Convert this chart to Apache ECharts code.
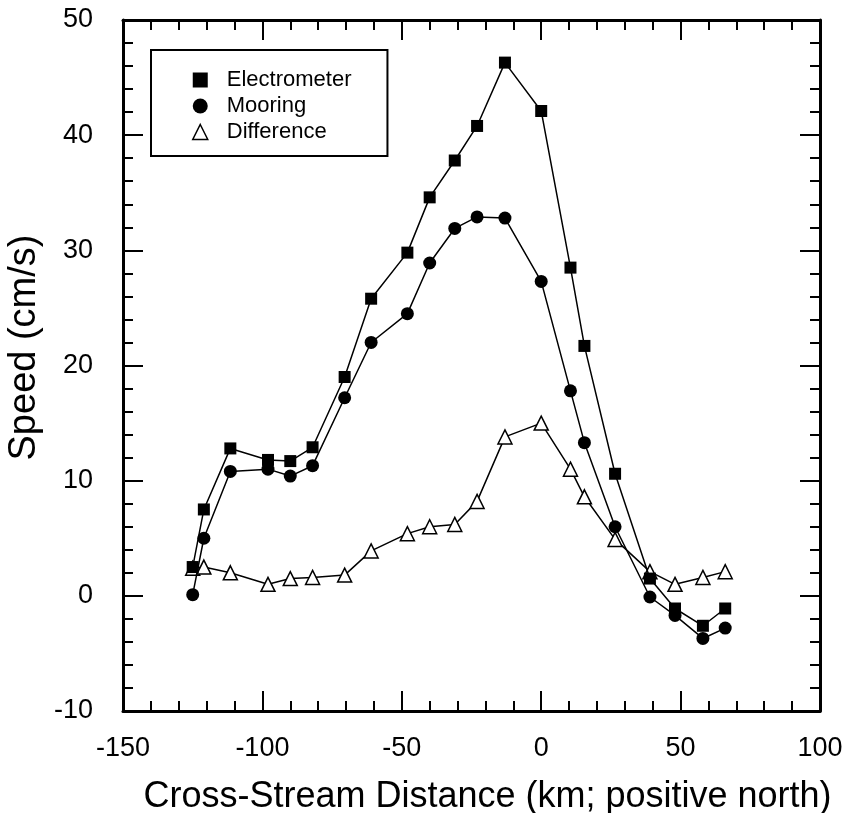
<!DOCTYPE html>
<html>
<head>
<meta charset="utf-8">
<script src="https://cdn.jsdelivr.net/npm/echarts@6/dist/echarts.min.js"></script>
<style>
  html, body { margin: 0; padding: 0; background: #fff; }
  #chart { width: 849px; height: 813px; }
</style>
</head>
<body>
<div id="chart"></div>
<script>
// cross-stream positions (km) and speeds (cm/s)
const distance = [-125, -121, -111.5, -98, -90, -82, -70.5, -61, -48, -40, -31, -23, -13, 0, 10.5, 15.5, 26.5, 39, 48, 58, 66];
const electrometer = [2.5, 7.5, 12.8, 11.8, 11.7, 12.9, 19.0, 25.8, 29.8, 34.6, 37.8, 40.8, 46.3, 42.1, 28.5, 21.7, 10.6, 1.5, -1.1, -2.6, -1.1];
const mooring = [0.1, 5.0, 10.8, 11.0, 10.4, 11.3, 17.2, 22.0, 24.5, 28.9, 31.9, 32.9, 32.8, 27.3, 17.8, 13.3, 6.0, -0.1, -1.7, -3.7, -2.8];
const difference = [2.4, 2.5, 2.0, 1.0, 1.5, 1.6, 1.8, 3.9, 5.4, 6.0, 6.2, 8.2, 13.8, 15.0, 11.0, 8.6, 4.9, 2.1, 1.0, 1.6, 2.1];

const FONT = 'Liberation Sans';

function pairs(vals) {
  return distance.map((d, i) => [d, vals[i]]);
}

function frameAxis(extra) {
  return Object.assign({
    type: 'value',
    axisLine: { show: true, onZero: false, lineStyle: { color: '#000', width: 3 } },
    axisTick: { show: true, inside: true, length: 20, lineStyle: { color: '#000', width: 2 } },
    minorTick: { show: true, splitNumber: 5, length: 10, lineStyle: { color: '#000', width: 2 } },
    splitLine: { show: false },
    axisLabel: { show: false }
  }, extra);
}

const chart = echarts.init(document.getElementById('chart'));
chart.setOption({
  backgroundColor: '#fff',
  animation: false,
  textStyle: { fontFamily: FONT, color: '#000' },
  grid: { left: 123, right: 29, top: 20, bottom: 102, outerBoundsMode: 'none' },
  legend: {
    orient: 'vertical',
    left: 151,
    top: 50,
    padding: [19, 36, 13, 41],
    borderColor: '#000',
    borderWidth: 2,
    itemWidth: 15,
    itemHeight: 15,
    itemGap: 4,
    textStyle: { fontFamily: FONT, fontSize: 22, color: '#000', padding: [0, 0, 0, 14] },
    data: [
      { name: 'Electrometer', icon: 'rect', itemStyle: { color: '#000' } },
      { name: 'Mooring', icon: 'circle', itemStyle: { color: '#000' } },
      { name: 'Difference', icon: 'triangle', itemStyle: { color: '#fff', borderColor: '#000', borderWidth: 1.5 } }
    ]
  },
  xAxis: [
    frameAxis({
      min: -150, max: 100, interval: 50, position: 'bottom',
      name: 'Cross-Stream Distance (km; positive north)',
      nameLocation: 'middle',
      nameGap: 68,
      nameTextStyle: { fontFamily: FONT, fontSize: 36, color: '#000', padding: [0, 0, 0, 32] },
      axisLabel: { show: true, margin: 24, fontFamily: FONT, fontSize: 27, color: '#000' }
    }),
    frameAxis({ min: -150, max: 100, interval: 50, position: 'top' })
  ],
  yAxis: [
    frameAxis({
      min: -10, max: 50, interval: 10, position: 'left',
      name: 'Speed (cm/s)',
      nameLocation: 'middle',
      nameGap: 76,
      nameTextStyle: { fontFamily: FONT, fontSize: 38, color: '#000', padding: [0, 0, 0, 36] },
      axisLabel: { show: true, margin: 30, fontFamily: FONT, fontSize: 27, color: '#000' }
    }),
    frameAxis({ min: -10, max: 50, interval: 10, position: 'right' })
  ],
  series: [
    {
      name: 'Electrometer', type: 'line', data: pairs(electrometer), z: 5,
      symbol: 'rect', symbolSize: 12,
      lineStyle: { color: '#000', width: 1.5 },
      itemStyle: { color: '#000' }
    },
    {
      name: 'Mooring', type: 'line', data: pairs(mooring), z: 4,
      symbol: 'circle', symbolSize: 13,
      lineStyle: { color: '#000', width: 1.5 },
      itemStyle: { color: '#000' }
    },
    {
      name: 'Difference', type: 'line', data: pairs(difference), z: 3,
      symbol: 'triangle', symbolSize: 14,
      lineStyle: { color: '#000', width: 1.5 },
      itemStyle: { color: '#fff', borderColor: '#000', borderWidth: 1.5 }
    }
  ]
});
</script>
</body>
</html>
